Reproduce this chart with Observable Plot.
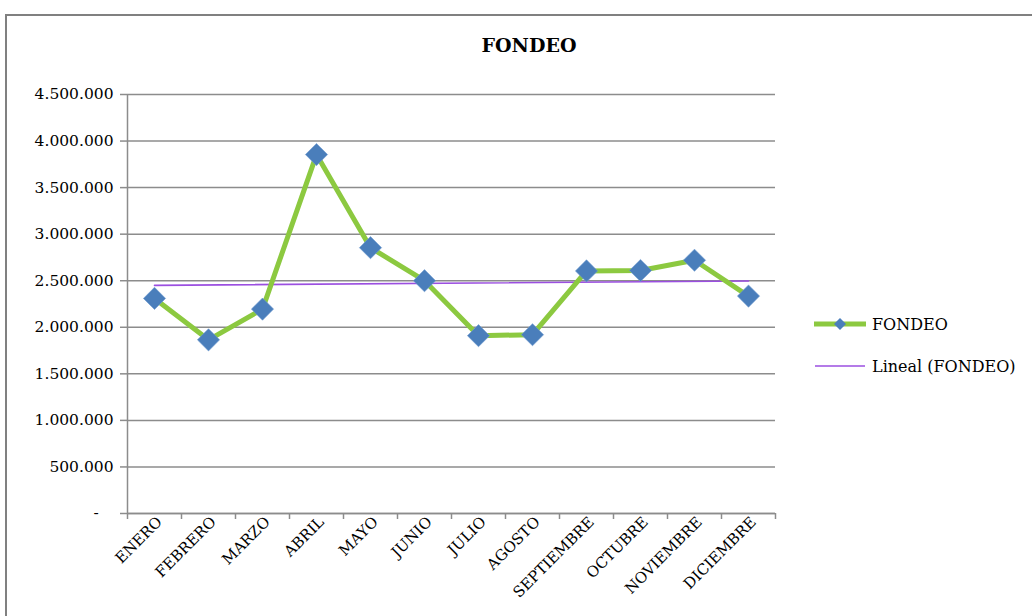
<!DOCTYPE html>
<html>
<head>
<meta charset="utf-8">
<script src="https://cdn.jsdelivr.net/npm/d3@7"></script>
<script src="https://cdn.jsdelivr.net/npm/@observablehq/plot@0.6"></script>
<style>
  html, body { margin: 0; padding: 0; background: #fff; overflow: hidden; }
  body { width: 1032px; height: 616px; position: relative; font-family: "DejaVu Serif", serif; }
  #frame { position: absolute; left: 5px; top: 14px; width: 1100px; height: 700px; border: 2px solid #808080; box-sizing: border-box; }
  #title { position: absolute; left: 429px; width: 200px; top: 34px; text-align: center; font-size: 19px; font-weight: bold; color: #000; }
  #chart { position: absolute; left: 0; top: 70px; }
  #legend { position: absolute; left: 812px; top: 312px; font-size: 16px; color: #000; }
  .item { display: flex; align-items: center; height: 24px; margin-bottom: 18px; }
  .item svg { margin-right: 4px; }
</style>
</head>
<body>
<div id="frame"></div>
<div id="title">FONDEO</div>
<div id="chart"></div>
<div id="legend"></div>
<script>
const months = ["ENERO","FEBRERO","MARZO","ABRIL","MAYO","JUNIO","JULIO","AGOSTO","SEPTIEMBRE","OCTUBRE","NOVIEMBRE","DICIEMBRE"];
const fondeo = [2310000, 1865000, 2195000, 3855000, 2855000, 2500000, 1910000, 1920000, 2605000, 2610000, 2720000, 2335000];
const yTicks = [0, 500000, 1000000, 1500000, 2000000, 2500000, 3000000, 3500000, 4000000, 4500000];
const seriesName = "FONDEO";
const trendName = "Lineal (FONDEO)";

const green = "#8cc940";
const blue = "#4a7ebb";
const purple = "#9b4fe0";
const gridColor = "#8c8c8c";

const data = fondeo.map((v, i) => ({i, month: months[i], v}));
const boundaries = d3.range(-0.5, months.length, 1);

const es = d3.formatLocale({decimal: ",", thousands: ".", grouping: [3], currency: ["", ""]});
const fmt = es.format(",d");
const yFormat = d => d === 0 ? "-\u00a0\u00a0\u00a0" : fmt(d);

const chart = Plot.plot({
  width: 800,
  height: 546,
  marginLeft: 127,
  marginRight: 25,
  marginTop: 24,
  marginBottom: 103,
  style: {fontFamily: "DejaVu Serif, serif", background: "transparent", overflow: "visible"},
  x: {type: "linear", domain: [-0.5, months.length - 0.5], axis: null, label: null},
  y: {domain: [0, 4500000], axis: null, label: null},
  marks: [
    Plot.gridY(yTicks, {stroke: gridColor, strokeOpacity: 1, strokeWidth: 1.5}),
    Plot.axisY(yTicks, {label: null, tickSize: 7, tickPadding: 7, tickFormat: yFormat, stroke: gridColor, strokeWidth: 1.5, fontSize: 15.5, fill: "#000"}),
    Plot.ruleX([-0.5], {stroke: gridColor, strokeWidth: 1.5}),
    Plot.ruleY([0], {stroke: gridColor, strokeWidth: 1.5}),
    Plot.axisX(boundaries, {label: null, tickSize: 6, tickFormat: () => "", stroke: gridColor, strokeWidth: 1.5}),
    Plot.axisX(d3.range(months.length), {label: null, tickSize: 0, tickPadding: 6, tickRotate: -45, tickFormat: i => months[i], fontSize: 15, fill: "#000", dx: 5}),
    Plot.linearRegressionY(data, {x: "i", y: "v", stroke: purple, strokeWidth: 1.6, ci: 0}),
    Plot.line(data, {x: "i", y: "v", stroke: green, strokeWidth: 5, strokeLinejoin: "round"}),
    Plot.dot(data, {x: "i", y: "v", symbol: "diamond2", r: 10, fill: blue, stroke: "#6f9bd0", strokeWidth: 0.6})
  ]
});
document.getElementById("chart").appendChild(chart);

const legend = document.getElementById("legend");
legend.innerHTML = `
  <div class="item"><svg width="56" height="16"><line x1="2" y1="8" x2="54" y2="8" stroke="${green}" stroke-width="5"/><path d="M28,2 L34,8 L28,14 L22,8 Z" fill="${blue}"/></svg><span>${seriesName}</span></div>
  <div class="item"><svg width="56" height="16"><line x1="3" y1="8" x2="53" y2="8" stroke="${purple}" stroke-width="1.6"/></svg><span>${trendName}</span></div>`;
</script>
</body>
</html>
